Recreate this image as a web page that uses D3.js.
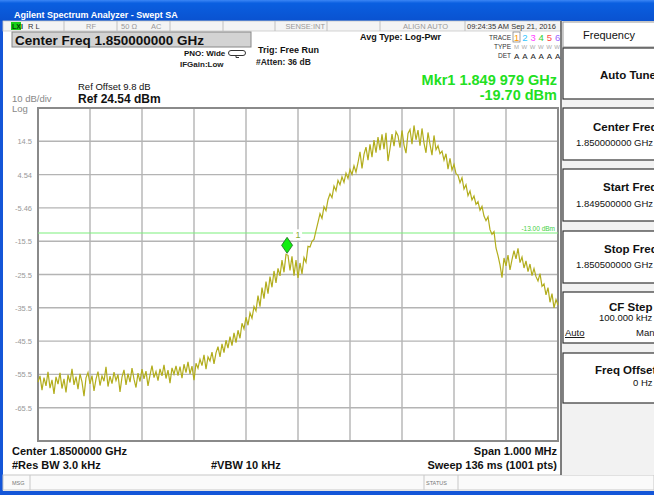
<!DOCTYPE html>
<html><head><meta charset="utf-8">
<script src="https://cdn.jsdelivr.net/npm/d3@7"></script>
<style>
html,body{margin:0;padding:0;background:#fff;}
svg{display:block;font-family:"Liberation Sans",Arial,sans-serif;}
</style></head>
<body><svg id="c" width="654" height="495"></svg>
<script>
// ---------- DATA ----------
const startFreqGHz = 1.8495;
const stopFreqGHz = 1.8505;
const refLevelDbm = 24.54;
const dbPerDiv = 10;
const yTickLabels = ["14.5","4.54","-5.46","-15.5","-25.5","-35.5","-45.5","-55.5","-65.5"];
const yTickValues = [14.54,4.54,-5.46,-15.46,-25.46,-35.46,-45.46,-55.46,-65.46];
const limitDbm = -13.00;
const markerFreqGHz = 1.849979;
const markerDbm = -19.70;
const traceDbm = [
-57.8,-55.9,-60.2,-56.4,-58.9,-54.7,-59.6,-57.1,-61.3,-56.2,
-58.4,-55.0,-59.7,-56.8,-60.9,-55.6,-57.9,-53.8,-58.6,-56.1,
-59.9,-55.3,-57.7,-62.0,-56.5,-54.9,-58.3,-55.8,-60.4,-56.9,
-54.6,-58.8,-55.9,-57.5,-53.2,-59.1,-56.0,-58.2,-54.8,-57.3,
-55.5,-60.7,-56.3,-54.1,-58.6,-55.2,-57.8,-53.6,-56.9,-59.4,
-55.1,-57.6,-53.9,-56.8,-54.5,-58.9,-55.7,-52.8,-56.4,-54.6,
-57.3,-53.8,-55.9,-52.6,-56.7,-54.2,-58.1,-53.5,-55.4,-52.9,
-55.8,-53.1,-56.6,-52.4,-54.9,-51.7,-55.3,-53.0,-57.2,-52.1,
-53.6,-50.9,-52.8,-49.6,-53.9,-50.2,-51.4,-48.8,-52.3,-49.0,
-47.1,-50.2,-46.3,-48.9,-45.2,-47.6,-44.1,-46.8,-43.0,-45.9,
-42.2,-44.6,-40.1,-41.8,-38.3,-40.7,-37.0,-38.6,-35.1,-36.4,
-31.8,-35.1,-29.4,-32.7,-27.6,-31.2,-26.1,-29.3,-24.4,-28.0,
-23.6,-25.9,-21.1,-24.8,-19.4,-19.7,-24.2,-20.0,-25.8,-21.1,
-26.5,-22.0,-25.3,-20.4,-21.8,-17.0,-17.2,-15.5,-14.9,-12.3,
-9.8,-7.2,-8.6,-5.1,-6.3,-3.0,-1.2,-2.4,1.1,-0.3,
2.8,1.5,3.9,2.2,5.0,3.4,6.1,4.6,7.2,5.3,
8.1,11.4,6.4,10.6,12.8,8.9,13.6,9.8,14.9,11.1,
15.8,11.9,16.6,12.2,17.1,8.6,12.3,16.7,13.1,17.4,
16.2,12.6,17.8,13.4,11.0,16.9,18.1,13.7,19.3,15.0,
17.9,13.2,18.4,14.0,11.1,17.2,13.6,10.4,16.3,12.0,
13.2,10.8,11.6,8.9,10.8,6.2,9.4,5.9,7.6,4.8,
4.3,2.1,3.6,0.2,1.5,-1.8,-0.4,-3.1,-1.9,-4.4,
-3.6,-6.2,-5.0,-7.9,-9.3,-8.1,-12.0,-13.4,-12.6,-17.5,
-19.8,-22.6,-26.4,-20.5,-22.9,-19.6,-24.1,-21.0,-18.3,-20.8,
-17.6,-21.9,-20.2,-23.5,-21.4,-24.6,-22.3,-25.8,-23.7,-26.1,
-27.4,-25.2,-29.0,-28.3,-31.6,-29.4,-33.8,-31.2,-35.5,-33.0,-34.6
];
const rightKeys = [
  {title:"Auto Tune", sub:null},
  {title:"Center Freq", sub:"1.850000000 GHz"},
  {title:"Start Freq", sub:"1.849500000 GHz"},
  {title:"Stop Freq", sub:"1.850500000 GHz"},
  {title:"CF Step", sub:"100.000 kHz"},
  {title:"Freq Offset", sub:"0 Hz"}
];

// ---------- DRAW ----------
const svg = d3.select("#c");
const PL=38, PR=558, PT=108, PB=441;
const x = d3.scaleLinear().domain([startFreqGHz, stopFreqGHz]).range([PL, PR]);
const y = d3.scaleLinear().domain([refLevelDbm - 10*dbPerDiv, refLevelDbm]).range([PB, PT]);

svg.append("rect").attr("width",654).attr("height",495).attr("fill","#fff");

// title bar
const defs = svg.append("defs");
const g1 = defs.append("linearGradient").attr("id","tb").attr("x1",0).attr("y1",0).attr("x2",0).attr("y2",1);
g1.append("stop").attr("offset","0").attr("stop-color","#3b86f5");
g1.append("stop").attr("offset","0.15").attr("stop-color","#0a5fe0");
g1.append("stop").attr("offset","1").attr("stop-color","#0a52d0");
svg.append("rect").attr("x",0).attr("y",0).attr("width",654).attr("height",21).attr("fill","url(#tb)");
svg.append("text").attr("x",14).attr("y",18).attr("fill","#fff").attr("font-size",9).attr("font-weight","bold")
  .text("Agilent Spectrum Analyzer - Swept SA");

// window borders
svg.append("rect").attr("x",0).attr("y",21).attr("width",3).attr("height",474).attr("fill","#1456d8");
svg.append("rect").attr("x",0).attr("y",491).attr("width",654).attr("height",4).attr("fill","#1456d8");

// status row
svg.append("rect").attr("x",3).attr("y",21).attr("width",558).attr("height",10).attr("fill","#f4f4f4").attr("stroke","#c8c8c8").attr("stroke-width",0.8);
[64,117,170,223,275,327,380,465].forEach(d=>svg.append("line").attr("x1",d).attr("x2",d).attr("y1",21).attr("y2",31).attr("stroke","#c0c0c0"));
svg.append("rect").attr("x",11).attr("y",22).attr("width",10).attr("height",8).attr("fill","#18d018");
svg.append("text").attr("x",12).attr("y",29).attr("font-size",7).attr("font-weight","bold").attr("fill","#064006").text("LXI");
const st = (t,xx,col,anchor)=>svg.append("text").attr("x",xx).attr("y",29).attr("font-size",7.5).attr("fill",col).attr("text-anchor",anchor||"start").text(t);
st("R L",28,"#333"); st("RF",86,"#999"); st("50 Ω",121,"#999"); st("AC",151,"#999");
st("SENSE:INT",325,"#999","end"); st("ALIGN AUTO",448,"#999","end"); st("09:24:35 AM Sep 21, 2016",467,"#333");

// center freq box
svg.append("rect").attr("x",12).attr("y",32).attr("width",239).attr("height",15).attr("fill","#d3d3d3").attr("stroke","#888").attr("stroke-width",1);
svg.append("text").attr("x",15).attr("y",45).attr("font-size",13.5).attr("font-weight","bold").attr("fill","#111").text("Center Freq 1.850000000 GHz");

// header info
const ht = (t,xx,yy,fs,bold,col,anchor)=>svg.append("text").attr("x",xx).attr("y",yy).attr("font-size",fs)
  .attr("font-weight",bold?"bold":"normal").attr("fill",col||"#111").attr("text-anchor",anchor||"start").text(t);
ht("PNO: Wide",184,56,8,true);
svg.append("path").attr("d","M231,50.5 h12 a2.5,2.5 0 0 1 0,5 h-12 a2.5,2.5 0 0 1 0,-5 Z M236,55.5 v2 h3").attr("fill","none").attr("stroke","#333").attr("stroke-width",1);
ht("IFGain:Low",180,67,8,true,"#222");
ht("Trig: Free Run",258,53,9,true);
ht("#Atten: 36 dB",256,65,8.5,true,"#222");
ht("Avg Type: Log-Pwr",360,40,9,true);
ht("TRACE",511,40,6.5,false,"#333","end");
ht("TYPE",511,49,6.5,false,"#333","end");
ht("DET",511,58,6.5,false,"#333","end");
svg.append("rect").attr("x",513).attr("y",32).attr("width",7).attr("height",10).attr("fill","none").attr("stroke","#777").attr("stroke-width",0.7);
const trCols=["#ff9a00","#33c6ff","#ff40ff","#30d030","#ff4848","#9a66ff"];
trCols.forEach((c,i)=>{
  ht(String(i+1),514+i*8.2,41,9.5,false,c);
  ht("A",514+i*8.2,59,8,false,"#222");
});
ht("MWWWWW",514,49,6,false,"#aaa").attr("textLength",46);

// ref info
ht("10 dB/div",12,102,9.5,false,"#888");
ht("Log",12,112,9.5,false,"#888");
ht("Ref Offset 9.8 dB",78,90,9.5,false,"#111");
ht("Ref 24.54 dBm",78,103,12,true,"#111");

// marker readout
ht("Mkr1 1.849 979 GHz",557,85,14.5,true,"#22e022","end");
ht("-19.70 dBm",557,100,14.5,true,"#22e022","end");

// grid
const grid = svg.append("g");
d3.range(11).forEach(k=>{
  const fx = x(startFreqGHz + k*(stopFreqGHz-startFreqGHz)/10);
  grid.append("line").attr("x1",fx).attr("x2",fx).attr("y1",PT).attr("y2",PB).attr("stroke","#b4b4b4").attr("stroke-width",1.4);
});
d3.range(11).forEach(k=>{
  const fy = y(refLevelDbm - k*dbPerDiv);
  grid.append("line").attr("x1",PL).attr("x2",PR).attr("y1",fy).attr("y2",fy).attr("stroke","#b4b4b4").attr("stroke-width",1.4);
});
svg.append("rect").attr("x",PL).attr("y",PT).attr("width",PR-PL).attr("height",PB-PT).attr("fill","none").attr("stroke","#8a8a8a").attr("stroke-width",2);
yTickValues.forEach((v,i)=>{
  svg.append("text").attr("x",32).attr("y",y(v)+3).attr("text-anchor","end").attr("font-size",7.5).attr("fill","#999").text(yTickLabels[i]);
});

// limit line
svg.append("line").attr("x1",PL).attr("x2",PR).attr("y1",y(limitDbm)).attr("y2",y(limitDbm)).attr("stroke","#7cf07c").attr("stroke-width",1.2);
svg.append("text").attr("x",555).attr("y",y(limitDbm)-2).attr("text-anchor","end").attr("font-size",6.5).attr("fill","#44d044").text("-13.00 dBm");

// trace
const n = traceDbm.length;
const line = d3.line()
  .x((d,i)=>x(startFreqGHz + i*(stopFreqGHz-startFreqGHz)/(n-1)))
  .y(d=>y(d));
svg.append("path").datum(traceDbm).attr("d",line).attr("fill","none").attr("stroke","#b2ad1c").attr("stroke-width",1.2).attr("stroke-linejoin","miter");

// marker
const mx = x(markerFreqGHz), my = y(markerDbm);
svg.append("path").attr("d",`M${mx},${my-2} l-5.5,-8 l5.5,-8 l5.5,8 Z`).attr("fill","#11ee11").attr("stroke","#226622").attr("stroke-width",0.8);
svg.append("rect").attr("x",mx+6).attr("y",my-26).attr("width",9).attr("height",11).attr("fill","#fff");
svg.append("text").attr("x",mx+8.5).attr("y",my-17).attr("font-size",9).attr("fill","#88aa33").text("1");

// bottom annotations
ht("Center 1.8500000 GHz",12,455,11,true);
ht("Span 1.000 MHz",557,455,11,true,"#111","end");
ht("#Res BW 3.0 kHz",12,469,11,true);
ht("#VBW 10 kHz",211,469,11,true);
ht("Sweep  136 ms (1001 pts)",557,469,11,true,"#111","end");

// status bar
svg.append("rect").attr("x",3).attr("y",475).attr("width",651).attr("height",15).attr("fill","#fafafa").attr("stroke","#c8c8c8");
[30,424,458].forEach(d=>svg.append("line").attr("x1",d).attr("x2",d).attr("y1",475).attr("y2",490).attr("stroke","#c8c8c8"));
ht("MSG",12,485,5.5,false,"#777");
ht("STATUS",426,485,5.5,false,"#777");

// right panel
svg.append("rect").attr("x",561).attr("y",21).attr("width",93).attr("height",454).attr("fill","#f2f2f2");
svg.append("line").attr("x1",561).attr("x2",561).attr("y1",21).attr("y2",475).attr("stroke","#555").attr("stroke-width",1.5);
svg.append("rect").attr("x",563).attr("y",22).attr("width",100).attr("height",25).attr("fill","#fff").attr("stroke","#999");
ht("Frequency",583,39,11,false,"#111");
const boxes = [[48,99],[108,160],[169,221],[231,283],[292,343],[353,403]];
rightKeys.forEach((k,i)=>{
  const [t,b] = boxes[i];
  svg.append("rect").attr("x",563).attr("y",t).attr("width",100).attr("height",b-t).attr("fill","#fff").attr("stroke","#333").attr("stroke-width",1.2);
});
ht("Auto Tune",600,79,11.5,true);
ht("Center Freq",593,131,11.5,true); ht("1.850000000 GHz",576,146,9.5,false);
ht("Start Freq",603,191,11.5,true); ht("1.849500000 GHz",576,207,9.5,false);
ht("Stop Freq",604,253,11.5,true); ht("1.850500000 GHz",576,268,9.5,false);
ht("CF Step",609,311,11.5,true); ht("100.000 kHz",599,321,9.5,false);
ht("Auto",565,336,9.5,false).attr("text-decoration","underline");
ht("Man",636,336,9.5,false);
ht("Freq Offset",595,374,11.5,true); ht("0 Hz",633,386,9.5,false);
</script></body></html>
